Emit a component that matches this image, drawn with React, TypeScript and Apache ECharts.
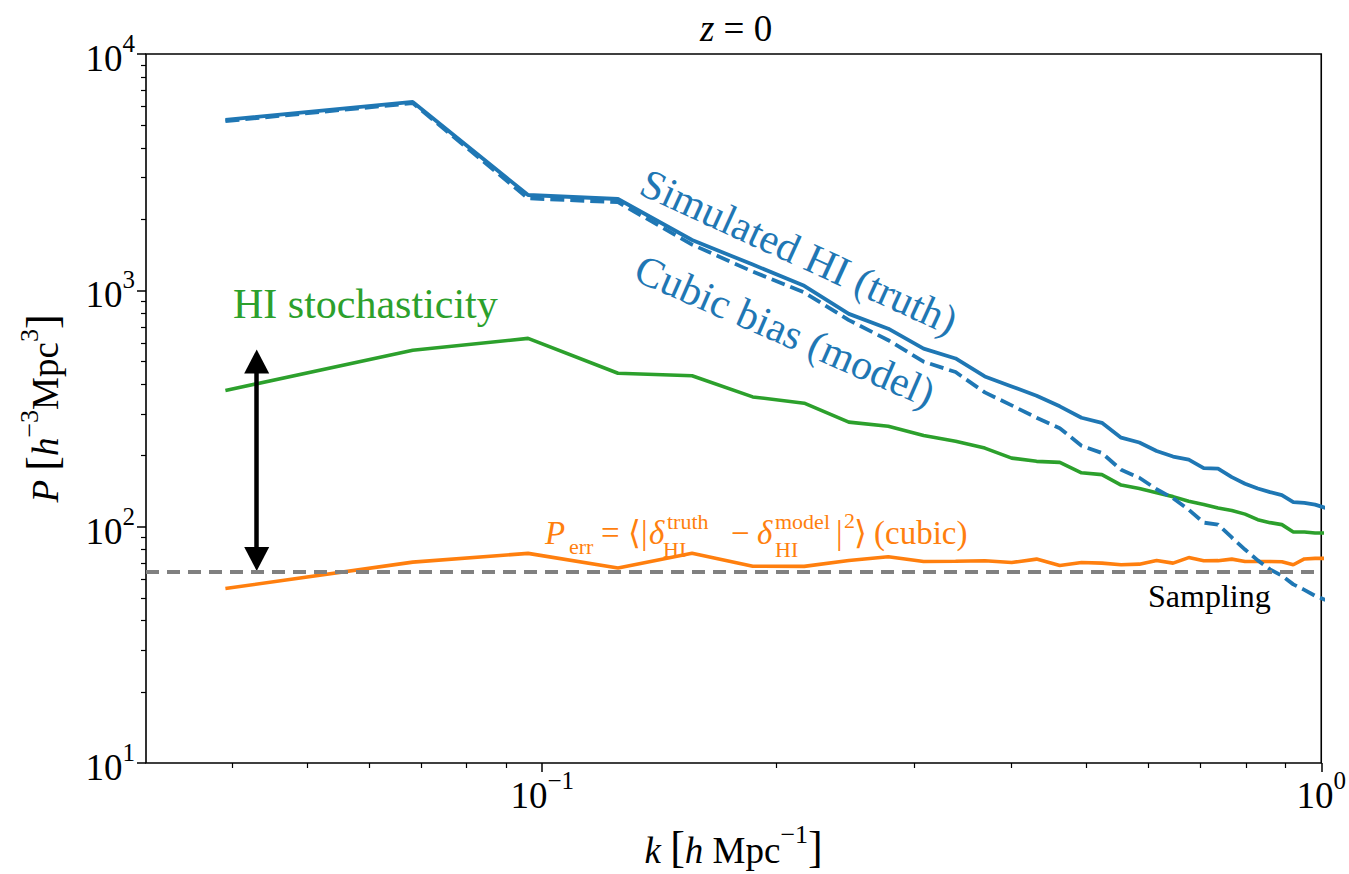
import React, { useEffect, useRef } from 'react';
import * as echarts from 'echarts';

// ---- data ----
const kValues = [0.0392, 0.0682, 0.0959, 0.1251, 0.1557, 0.1863, 0.2169, 0.2475, 0.2781, 0.3087, 0.3393, 0.3699, 0.4005, 0.4311, 0.4617, 0.4923, 0.5229, 0.5535, 0.5841, 0.6147, 0.6453, 0.6759, 0.7065, 0.7371, 0.7677, 0.7983, 0.8289, 0.8595, 0.8901, 0.9207, 0.9513, 0.9819, 1.0125];
const truthP = [5268, 6266, 2531, 2435, 1633, 1285, 1045, 795, 688, 567, 515, 432, 392, 358, 323, 289, 275, 238, 227, 209, 198, 192, 177, 176, 162, 152, 145, 140, 136, 127, 126, 124, 120];
const modelP = [5200, 6195, 2450, 2360, 1562, 1200, 980, 748, 615, 499, 451, 370, 326, 289, 261, 220, 205, 174, 161, 144, 132, 118, 104, 102, 90, 80, 72, 66, 62, 57, 54, 51, 49];
const stochP = [377, 558, 626, 446, 435, 354, 333, 277, 266, 243, 230, 215, 195, 189, 187, 169, 166, 150, 145, 139, 134, 128, 124, 120, 117, 113, 107, 104, 102, 95, 95, 94, 94];
const errP = [54.7, 70.8, 77.1, 66.8, 77.2, 68.0, 67.9, 71.9, 74.6, 71.2, 71.4, 71.7, 70.5, 72.9, 68.5, 70.5, 70.1, 69.0, 69.4, 71.9, 70.1, 74.0, 71.7, 71.8, 72.9, 71.2, 71.2, 71.2, 71.0, 69.0, 73.0, 73.4, 73.4];
const samplingP = 64.6;
const arrowK = 0.043;
const arrowTopP = 500;
const arrowBottomP = 73;

const xMin = 0.031;
const xMax = 1;
const yMin = 10;
const yMax = 10000;
const xMajorTicks = [0.1, 1];
const xMinorTicks = [0.04, 0.05, 0.06, 0.07, 0.08, 0.09, 0.2, 0.3, 0.4, 0.5, 0.6, 0.7, 0.8, 0.9];
const yMajorTicks = [10, 100, 1000, 10000];
const yMinorTicks = [20, 30, 40, 50, 60, 70, 80, 90, 200, 300, 400, 500, 600, 700, 800, 900, 2000, 3000, 4000, 5000, 6000, 7000, 8000, 9000];

const BLUE = '#1f77b4';
const GREEN = '#2ca02c';
const ORANGE = '#ff7f0e';
const FONT = 'Liberation Serif';

const pairs = (vals: number[]) => kValues.map((k, i) => [k, vals[i]]);

const expLabel = (v: number) => {
  const e = Math.round(Math.log10(v));
  return `{b|10}{s|${e < 0 ? '\u2212' + -e : e}}`;
};

const tickRich = {
  b: { fontSize: 37, fontFamily: FONT, color: '#000', lineHeight: 46, verticalAlign: 'bottom' },
  s: { fontSize: 25, fontFamily: FONT, color: '#000', lineHeight: 25, verticalAlign: 'top' },
};

const nameRich = {
  i: { fontSize: 37, fontFamily: FONT, fontStyle: 'italic', color: '#000', lineHeight: 48, verticalAlign: 'bottom' },
  n: { fontSize: 37, fontFamily: FONT, color: '#000', lineHeight: 48, verticalAlign: 'bottom' },
  br: { fontSize: 44, fontFamily: FONT, color: '#000', lineHeight: 48, verticalAlign: 'bottom' },
  s: { fontSize: 26, fontFamily: FONT, color: '#000', lineHeight: 26, verticalAlign: 'top' },
};

function txt(x: number, y: number, text: string, size: number, color: string, opts: any = {}) {
  return {
    type: 'text',
    x,
    y,
    rotation: opts.rotation || 0,
    z: 100,
    style: {
      text,
      fill: color,
      fontSize: size,
      fontFamily: FONT,
      fontStyle: opts.italic ? 'italic' : 'normal',
      align: opts.align || 'left',
      verticalAlign: 'middle',
    },
  };
}

export default function App() {
  const ref = useRef<HTMLDivElement>(null);
  useEffect(() => {
    if (!ref.current) return;
    const chart = echarts.init(ref.current, undefined, { renderer: 'svg' });
    const S = 33;
    const s = 22;
    const deg = Math.PI / 180;
    const option: any = {
      animation: false,
      backgroundColor: '#fff',
      textStyle: { fontFamily: FONT },
      grid: { left: 146, right: 26, top: 54, bottom: 104, show: true, borderColor: '#000', borderWidth: 1.6, backgroundColor: 'transparent' },
      xAxis: [
        {
          type: 'log', logBase: 10, min: xMin, max: xMax, position: 'bottom',
          axisLine: { show: false },
          splitLine: { show: false },
          axisTick: { show: true, customValues: xMajorTicks, length: 9, inside: false, lineStyle: { color: '#000', width: 1.5 } },
          axisLabel: { customValues: xMajorTicks, formatter: expLabel, rich: tickRich, margin: 5 },
          name: '{i|k}{n| }{br|[}{i|h}{n| Mpc}{s|\u22121}{br|]}',
          nameLocation: 'middle', nameGap: 58,
          nameTextStyle: { rich: nameRich },
        },
        {
          type: 'log', logBase: 10, min: xMin, max: xMax, position: 'bottom',
          axisLine: { show: false }, splitLine: { show: false },
          axisTick: { show: true, customValues: xMinorTicks, length: 5, lineStyle: { color: '#000', width: 1.2 } },
          axisLabel: { show: false },
        },
      ],
      yAxis: [
        {
          type: 'log', logBase: 10, min: yMin, max: yMax, position: 'left',
          axisLine: { show: false }, splitLine: { show: false },
          axisTick: { show: true, customValues: yMajorTicks, length: 9, lineStyle: { color: '#000', width: 1.5 } },
          axisLabel: { customValues: yMajorTicks, formatter: expLabel, rich: tickRich, margin: 11 },
          name: '{i|P}{n| }{br|[}{i|h}{s|\u22123}{n|Mpc}{s|3}{br|]}',
          nameLocation: 'middle', nameGap: 82, nameRotate: 90,
          nameTextStyle: { rich: nameRich },
        },
        {
          type: 'log', logBase: 10, min: yMin, max: yMax, position: 'left',
          axisLine: { show: false }, splitLine: { show: false },
          axisTick: { show: true, customValues: yMinorTicks, length: 5, lineStyle: { color: '#000', width: 1.2 } },
          axisLabel: { show: false },
        },
      ],
      series: [
        {
          name: 'Simulated HI (truth)', type: 'line', xAxisIndex: 0, yAxisIndex: 0,
          data: pairs(truthP), symbol: 'none', clip: true, z: 4,
          lineStyle: { color: BLUE, width: 3.8 }, itemStyle: { color: BLUE },
        },
        {
          name: 'Cubic bias (model)', type: 'line', xAxisIndex: 0, yAxisIndex: 0,
          data: pairs(modelP), symbol: 'none', clip: true, z: 4,
          lineStyle: { color: BLUE, width: 3.8, type: [14, 6] }, itemStyle: { color: BLUE },
        },
        {
          name: 'HI stochasticity', type: 'line', xAxisIndex: 0, yAxisIndex: 0,
          data: pairs(stochP), symbol: 'none', clip: true, z: 3,
          lineStyle: { color: GREEN, width: 3.6 }, itemStyle: { color: GREEN },
          markLine: {
            silent: true, animation: false,
            symbol: ['triangle', 'triangle'], symbolSize: [25, 24],
            label: { show: false },
            lineStyle: { color: '#000', width: 4.5, type: 'solid' },
            data: [[{ coord: [arrowK, arrowTopP] }, { coord: [arrowK, arrowBottomP] }]],
          },
        },
        {
          name: 'P_err', type: 'line', xAxisIndex: 0, yAxisIndex: 0,
          data: pairs(errP), symbol: 'none', clip: true, z: 3,
          lineStyle: { color: ORANGE, width: 3.6 }, itemStyle: { color: ORANGE },
          markLine: {
            silent: true, animation: false, symbol: 'none',
            label: { show: false },
            lineStyle: { color: '#808080', width: 4, type: [13, 8] },
            data: [{ yAxis: samplingP }],
          },
        },
      ],
      graphic: [
        // title
        { type: 'text', x: 736, y: 28, z: 100, style: { text: '{i|z}{n| = 0}', align: 'center', verticalAlign: 'middle',
          rich: { i: { fontSize: 37, fontFamily: FONT, fontStyle: 'italic', fill: '#000' }, n: { fontSize: 37, fontFamily: FONT, fill: '#000' } } } },
        txt(799, 252, 'Simulated HI (truth)', 42, BLUE, { align: 'center', rotation: -24.5 * deg }),
        txt(785, 331, 'Cubic bias (model)', 42, BLUE, { align: 'center', rotation: -23.5 * deg }),
        txt(233, 304, 'HI stochasticity', 42, GREEN),
        txt(1148, 596, 'Sampling', 32, '#000'),
        // P_err formula
        txt(545, 533, 'P', S, ORANGE, { italic: true }),
        txt(569, 546, 'err', s, ORANGE),
        txt(601, 533, '=', S, ORANGE),
        txt(628, 533, '\u27e8', S, ORANGE),
        txt(641, 533, '|', S, ORANGE),
        txt(649, 533, '\u03b4', S, ORANGE, { italic: true }),
        txt(667, 521, 'truth', s, ORANGE),
        txt(663, 549, 'HI', s, ORANGE),
        txt(731, 533, '\u2212', S, ORANGE),
        txt(757, 533, '\u03b4', S, ORANGE, { italic: true }),
        txt(775, 521, 'model', s, ORANGE),
        txt(775, 549, 'HI', s, ORANGE),
        txt(836, 533, '|', S, ORANGE),
        txt(844, 520, '2', s, ORANGE),
        txt(854, 533, '\u27e9', S, ORANGE),
        txt(874, 533, '(cubic)', S, ORANGE),
      ],
    };
    chart.setOption(option);
    return () => chart.dispose();
  }, []);
  return <div ref={ref} style={{ position: 'absolute', left: 0, top: 0, width: 1349, height: 874 }} />;
}
